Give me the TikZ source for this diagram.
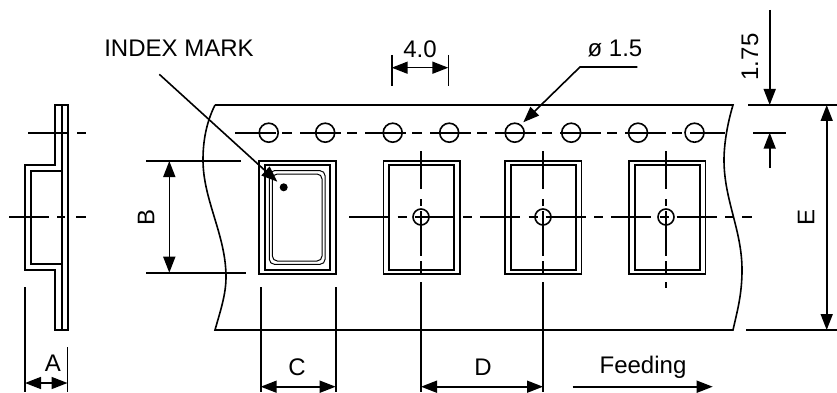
\documentclass[tikz,border=0pt]{standalone}
\usepackage{fontspec}
\setmainfont{Liberation Sans}
\usetikzlibrary{arrows.meta}

\begin{document}
\begin{tikzpicture}[x=1pt,y=-1pt,>={Triangle[length=16pt,width=12pt]},line width=1.6pt,node distance=56.5pt,
    label node/.style={font=\fontsize{24}{28}\selectfont,inner sep=0pt},
    hole node/.style={circle,draw,inner sep=0pt,minimum size=19pt},
    small hole/.style={circle,draw,inner sep=0pt,minimum size=16pt},
    pocket outer/.style={draw,inner sep=0pt,minimum width=76.5pt,minimum height=113pt},
    pocket inner/.style={draw,inner sep=0pt,minimum width=65pt,minimum height=105pt},
    chip node/.style={draw,line width=1pt,rounded corners=5pt,inner sep=0pt},
    row dash/.style={dash pattern=on 41pt off 6pt on 10pt off 8pt},
    axis dash/.style={dash pattern=on 40pt off 8.5pt on 9pt off 8pt},
    pocket dash/.style={dash pattern=on 38pt off 10pt on 7pt off 5pt on 45pt off 5pt on 12pt off 9pt on 300pt off 10pt}]
    \useasboundingbox (0,0) rectangle (837,393);

    % tape
    \draw (215,105) -- (733,105) .. controls (727,125) and (724,145) .. (724,160)
        .. controls (724,200) and (742,230) .. (742,270)
        .. controls (742,295) and (737,312) .. (733,330) -- (215,330)
        .. controls (220,312) and (226,295) .. (226,277)
        .. controls (226,235) and (203,200) .. (203,160)
        .. controls (203,145) and (205,125) .. (215,105);

    % side view
    \draw (55,105) -- (68,105) -- (68,330) -- (55,330) -- (55,270) -- (25,270) -- (25,165) -- (55,165) -- cycle;
    \draw (62,105) -- (62,330);
    \draw (62,171) -- (31,171) -- (31,264) -- (62,264);
    \coordinate (s1) at (28,132.7);
    \coordinate (s2) at (86,132.7);
    \coordinate (s3) at (9,217);
    \coordinate (s4) at (86,217);
    \path[dash pattern=on 40pt off 9pt on 9pt off 8pt] (s1) edge (s2);
    \path[dash pattern=on 40pt off 8pt on 8pt off 11pt on 10pt off 10pt] (s3) edge (s4);

    % sprocket holes
    \node[hole node] (h1) at (268.7,132.7) {};
    \node[hole node] (h2) [right of=h1] {};
    \node[hole node] (h3) at (392.7,132.7) {};
    \node[hole node] (h4) [right of=h3] {};
    \node[hole node] (h5) at (514.7,132.7) {};
    \node[hole node] (h6) [right of=h5] {};
    \node[hole node] (h7) at (638,132.7) {};
    \node[hole node] (h8) [right of=h7] {};
    \coordinate (r1) at (235,132.7);
    \coordinate (r2) at (725,132.7);
    \path[row dash] (r1) edge (r2);

    % pockets
    \node[pocket outer] (p1) at (297.5,217.5) {};
    \node[pocket inner] (q1) at (297.5,217.5) {};
    \node[pocket outer] (p2) at (421.7,217.5) {};
    \node[pocket inner] (q2) at (421.7,217.5) {};
    \node[pocket outer] (p3) at (543.3,217.5) {};
    \node[pocket inner] (q3) at (543.3,217.5) {};
    \node[pocket outer] (p4) at (667.3,217.5) {};
    \node[pocket inner] (q4) at (667.3,217.5) {};
    \node[chip node,minimum width=55.7pt,minimum height=93.6pt] (c1) at (297.2,217.5) {};
    \node[chip node,minimum width=49.7pt,minimum height=87pt] (c2) at (297.2,217.5) {};
    \node[circle,fill,inner sep=0pt,minimum size=8pt] (mark) at (283.7,187.3) {};

    % centre holes and axes
    \node[small hole] (o1) at (421,217) {};
    \node[small hole] (o2) at (543,217) {};
    \node[small hole] (o3) at (666,217) {};
    \coordinate (a1) at (349,217);
    \coordinate (a2) at (752,217);
    \path[axis dash] (a1) edge (a2);
    \coordinate (v1) at (421,151);
    \coordinate (v2) at (421,392);
    \coordinate (v3) at (543,151);
    \coordinate (v4) at (543,392);
    \coordinate (v5) at (666,151);
    \coordinate (v6) at (666,288);
    \path[pocket dash]
        (v1) edge (v2)
        (v3) edge (v4)
        (v5) edge (v6);

    % extension lines
    \coordinate (e1) at (146,161);
    \coordinate (e2) at (241,161);
    \coordinate (e3) at (146,272.7);
    \coordinate (e4) at (246,272.7);
    \coordinate (e5) at (25,287);
    \coordinate (e6) at (25,392);
    \coordinate (e7) at (67.5,347);
    \coordinate (e8) at (67.5,392);
    \coordinate (e9) at (260.7,287);
    \coordinate (e10) at (260.7,392);
    \coordinate (e11) at (335.7,287);
    \coordinate (e12) at (335.7,392);
    \coordinate (e13) at (391.7,55);
    \coordinate (e14) at (391.7,86);
    \coordinate (e15) at (448.3,55);
    \coordinate (e16) at (448.3,86);
    \coordinate (e17) at (748,105);
    \coordinate (e18) at (837,105);
    \coordinate (e19) at (746,330);
    \coordinate (e20) at (837,330);
    \coordinate (e21) at (753,132.7);
    \coordinate (e22) at (785.7,132.7);
    \path
        (e1) edge (e2)
        (e3) edge (e4)
        (e5) edge (e6)
        (e7) edge (e8)
        (e9) edge (e10)
        (e11) edge (e12)
        (e13) edge (e14)
        (e15) edge (e16)
        (e17) edge (e18)
        (e19) edge (e20)
        (e21) edge (e22);

    % dimension arrows
    \coordinate (da1) at (25,383);
    \coordinate (da2) at (67.5,383);
    \coordinate (db1) at (169.3,161);
    \coordinate (db2) at (169.3,272.7);
    \coordinate (dc1) at (260.7,386.7);
    \coordinate (dc2) at (335.7,386.7);
    \coordinate (dd1) at (421,386.7);
    \coordinate (dd2) at (543,386.7);
    \coordinate (de1) at (826.7,105);
    \coordinate (de2) at (826.7,330);
    \coordinate (df1) at (391.7,67.7);
    \coordinate (df2) at (448.3,67.7);
    \path[<->]
        (da1) edge (da2)
        (db1) edge (db2)
        (dc1) edge (dc2)
        (dd1) edge (dd2)
        (de1) edge (de2)
        (df1) edge (df2);
    \coordinate (f1) at (572.7,386.7);
    \coordinate (f2) at (712.7,386.7);
    \coordinate (t1) at (769.7,10);
    \coordinate (t2) at (769.7,105);
    \coordinate (t3) at (769.7,168);
    \coordinate (t4) at (769.7,132.7);
    \coordinate (m1) at (159.3,74.3);
    \coordinate (m2) at (277.3,181.7);
    \coordinate (l1) at (637.3,67);
    \coordinate (l2) at (580,67);
    \coordinate (l3) at (523.3,122.3);
    \path[->]
        (f1) edge (f2)
        (t1) edge (t2)
        (t3) edge (t4)
        (m1) edge (m2);
    \draw[->] (l1) -- (l2) -- (l3);

    % labels
    \node[label node] (index) at (179,48) {INDEX MARK};
    \node[label node] (pitch) at (420,49.3) {4.0};
    \node[label node] (dia) at (615,48.7) {ø 1.5};
    \node[label node,rotate=90] (edge) at (750,57) {1.75};
    \node[label node,rotate=90] (lb) at (146,217) {B};
    \node[label node,rotate=90] (le) at (806,217) {E};
    \node[label node] (la) at (53,363) {A};
    \node[label node] (lc) at (297,367) {C};
    \node[label node] (ld) at (483,367) {D};
    \node[label node] (feed) at (643,367.7) {Feeding};
\end{tikzpicture}
\end{document}
